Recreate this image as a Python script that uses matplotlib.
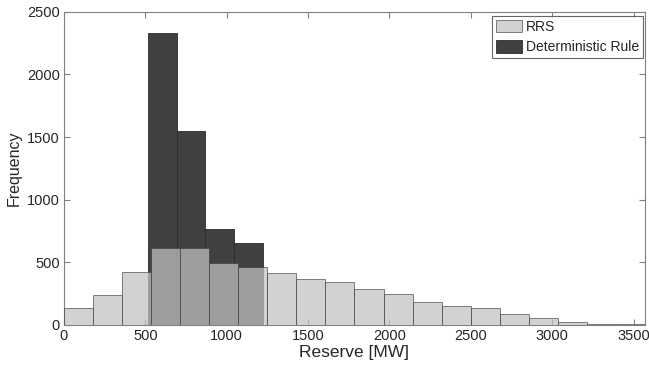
import numpy as np
import matplotlib
matplotlib.use("Agg")
import matplotlib.pyplot as plt

plt.rcParams['font.family'] = ['Liberation Sans', 'DejaVu Sans']

# RRS histogram: 20 equal bins between min and max reserve
rrs_min, rrs_max = 0, 3570
rrs_counts = [135, 237, 422, 612, 612, 497, 465, 413, 365, 340,
              285, 250, 187, 152, 133, 88, 53, 24, 10, 5]

# Deterministic rule histogram: 4 equal bins
det_min, det_max = 518, 1221
det_counts = [2330, 1545, 765, 658]

x_ticks = [0, 500, 1000, 1500, 2000, 2500, 3000, 3500]
y_ticks = [0, 500, 1000, 1500, 2000, 2500]


def main():
    rrs_edges = np.linspace(rrs_min, rrs_max, len(rrs_counts) + 1)
    det_edges = np.linspace(det_min, det_max, len(det_counts) + 1)

    fig = plt.figure(figsize=(6.49, 3.65), dpi=100)
    ax = fig.add_axes([0.0986, 0.1096, 0.8952, 0.8584])

    # dark bars underneath, RRS semi-transparent on top
    ax.bar(det_edges[:-1], det_counts, width=np.diff(det_edges), align='edge',
           color='#404040', edgecolor='#2a2a2a', linewidth=0.6,
           label='Deterministic Rule', zorder=2)
    ax.bar(rrs_edges[:-1], rrs_counts, width=np.diff(rrs_edges), align='edge',
           color=(0.76, 0.76, 0.76), alpha=0.73, edgecolor='#3a3a3a',
           linewidth=0.6, label='RRS', zorder=3)

    ax.set_xlim(0, 3570)
    ax.set_ylim(0, 2500)
    ax.set_xticks(x_ticks)
    ax.set_yticks(y_ticks)

    for side in ['top', 'bottom', 'left', 'right']:
        ax.spines[side].set_color('#808080')
        ax.spines[side].set_linewidth(0.8)
    ax.tick_params(direction='in', length=4, width=0.8, color='#808080',
                   top=True, right=True, labelsize=10.5, labelcolor='#262626',
                   pad=3)

    ax.set_xlabel('Reserve [MW]', fontsize=12.5, color='#262626', labelpad=1)
    ax.set_ylabel('Frequency', fontsize=11.5, color='#262626', labelpad=4)

    handles, labels = ax.get_legend_handles_labels()
    leg = ax.legend(handles[::-1], labels[::-1], loc='upper right',
                    bbox_to_anchor=(1 - 2 / 581, 1 - 4 / 313),
                    fontsize=10, frameon=True, fancybox=False,
                    borderaxespad=0, handlelength=1.9, handleheight=1.0,
                    handletextpad=0.25, labelspacing=0.45, borderpad=0.3)
    leg.get_frame().set_edgecolor('#404040')
    leg.get_frame().set_linewidth(0.8)
    for t in leg.get_texts():
        t.set_color('#262626')

    fig.savefig('out.png', dpi=100)


if __name__ == "__main__":
    main()
